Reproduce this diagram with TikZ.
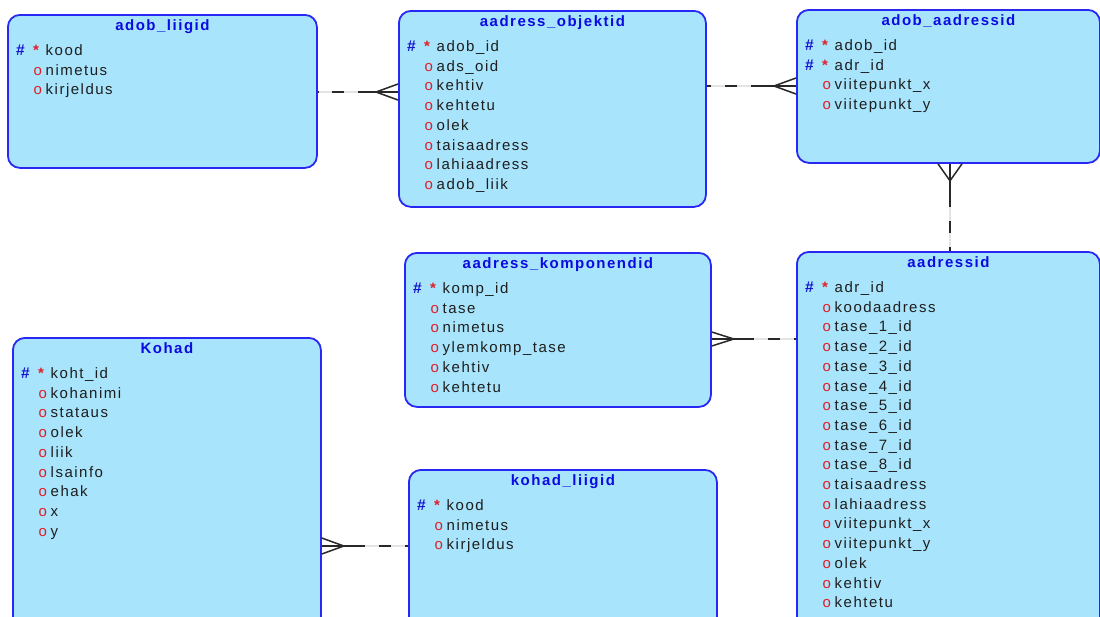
\documentclass[tikz,border=0pt]{standalone}
\usepackage{fontspec}
\usetikzlibrary{calc}
\newfontfamily\erdfont[LetterSpace=10]{Liberation Sans}
\definecolor{entfill}{RGB}{168,228,251}
\definecolor{entline}{RGB}{40,40,245}
\definecolor{enttitle}{RGB}{10,10,225}
\definecolor{pkblue}{RGB}{20,20,210}
\definecolor{optred}{RGB}{225,30,40}
\definecolor{fieldtext}{RGB}{30,30,30}
\definecolor{relline}{RGB}{40,40,40}
\definecolor{relghost}{RGB}{228,228,228}

\tikzset{
  entitybox/.style={draw=entline, line width=1.8pt, fill=entfill,
    rounded corners=12pt, inner sep=0pt, anchor=north west},
  titletext/.style={font=\erdfont\bfseries\fontsize{15}{18}\selectfont,
    text=enttitle, inner sep=0pt, anchor=base},
  fieldname/.style={font=\erdfont\fontsize{15}{18}\selectfont,
    text=fieldtext, inner sep=0pt, anchor=base west},
  hashmark/.style={font=\erdfont\bfseries\fontsize{15.5}{18}\selectfont,
    text=pkblue, inner sep=0pt, anchor=base west},
  starmark/.style={font=\erdfont\bfseries\fontsize{15}{18}\selectfont,
    text=optred, inner sep=0pt, anchor=base west},
  omark/.style={font=\erdfont\fontsize{15}{18}\selectfont,
    text=optred, inner sep=0pt, anchor=base west},
  rel/.style={draw=relline, line width=1.5pt},
  ghost/.style={draw=relghost, line width=1.5pt},
  optional/.style={dash pattern=on 12pt off 14pt, dash phase=12pt},
}

% entity: name, x1, y1, x2, y2, title, rows (p = key column, o = optional column)
\newcommand\entity[7]{%
  \node[entitybox, minimum width={(#4-#2)*1pt}, minimum height={(#5-#3)*1pt}]
    (#1) at (#2,#3) {};
  \node[titletext] (#1-title) at ([yshift=-16pt]#1.north) {#6};
  \foreach \k/\f [count=\i from 0] in {#7} {
    \if p\k
      \node[hashmark] (#1-h\i) at ([xshift=9pt, yshift={-(41.5+19.7*\i)*1pt}]#1.north west) {\#};
      \node[starmark] (#1-s\i) at ([xshift=26pt, yshift={-(41.5+19.7*\i)*1pt}]#1.north west) {*};
    \else
      \node[omark] (#1-o\i) at ([xshift=26.5pt, yshift={-(41.5+19.7*\i)*1pt}]#1.north west) {o};
    \fi
    \node[fieldname] (#1-f\i) at ([xshift=38.5pt, yshift={-(41.5+19.7*\i)*1pt}]#1.north west) {\f};
  }%
}

% relationship: optional end, many end, crow's foot direction offset, foot spread offset
\newcommand\relation[4]{%
  \coordinate (#1-#2-m) at ($(#1)!0.5!(#2)$);
  \coordinate (#1-#2-c) at ($(#2)+#3$);
  \draw[ghost] (#1) -- (#2);
  \draw[rel] (#2) -- (#1-#2-m);
  \draw[rel, optional] (#1-#2-m) -- (#1);
  \draw[rel] ($(#2)+#4$) -- (#1-#2-c) -- ($(#2)-#4$);
}

\begin{document}
\begin{tikzpicture}[x=1pt, y=-1pt]
\useasboundingbox (0,0) rectangle (1100,616);
\fill[white] (0,0) rectangle (1100,616);
\begin{scope}
\clip (0,0) rectangle (1100,616);

\entity{adobliigid}{7}{14}{316}{167}{adob\_liigid}
  {p/kood, o/nimetus, o/kirjeldus}
\entity{adrobj}{398}{10}{705}{206}{aadress\_objektid}
  {p/adob\_id, o/ads\_oid, o/kehtiv, o/kehtetu, o/olek, o/taisaadress,
   o/lahiaadress, o/adob\_liik}
\entity{adobadr}{796}{9}{1099}{162}{adob\_aadressid}
  {p/adob\_id, p/adr\_id, o/viitepunkt\_x, o/viitepunkt\_y}
\entity{adrkomp}{404}{252}{710}{406}{aadress\_komponendid}
  {p/komp\_id, o/tase, o/nimetus, o/ylemkomp\_tase, o/kehtiv, o/kehtetu}
\entity{aadressid}{796}{251}{1099}{640}{aadressid}
  {p/adr\_id, o/koodaadress, o/tase\_1\_id, o/tase\_2\_id, o/tase\_3\_id,
   o/tase\_4\_id, o/tase\_5\_id, o/tase\_6\_id, o/tase\_7\_id, o/tase\_8\_id,
   o/taisaadress, o/lahiaadress, o/viitepunkt\_x, o/viitepunkt\_y, o/olek,
   o/kehtiv, o/kehtetu}
\entity{kohad}{12}{337}{320}{640}{Kohad}
  {p/koht\_id, o/kohanimi, o/stataus, o/olek, o/liik, o/lsainfo, o/ehak,
   o/x, o/y}
\entity{kohadliigid}{408}{469}{716}{640}{kohad\_liigid}
  {p/kood, o/nimetus, o/kirjeldus}

% connector end points on the entity borders
\coordinate (e1a) at (adobliigid.east |- 0,92);
\coordinate (e1b) at (adrobj.west |- 0,92);
\coordinate (e2a) at (adrobj.east |- 0,86);
\coordinate (e2b) at (adobadr.west |- 0,86);
\coordinate (e3a) at (adobadr.south -| 950,0);
\coordinate (e3b) at (aadressid.north -| 950,0);
\coordinate (e4a) at (aadressid.west |- 0,339);
\coordinate (e4b) at (adrkomp.east |- 0,339);
\coordinate (e5a) at (kohadliigid.west |- 0,546);
\coordinate (e5b) at (kohad.east |- 0,546);

\relation{e1a}{e1b}{(-22,0)}{(0,-8)}
\relation{e2a}{e2b}{(-22,0)}{(0,-8)}
\relation{e3b}{e3a}{(0,17)}{(-12,0)}
\relation{e4a}{e4b}{(22,0)}{(0,-7)}
\relation{e5a}{e5b}{(22,0)}{(0,-8)}
\end{scope}
\end{tikzpicture}
\end{document}
